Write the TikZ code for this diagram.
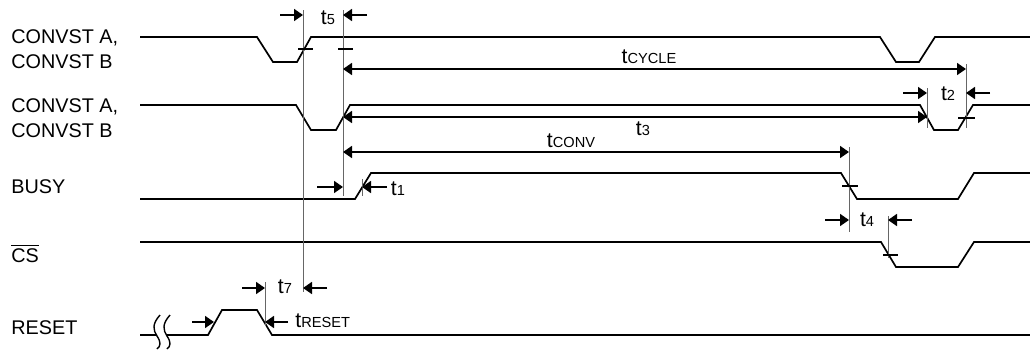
\documentclass[tikz,border=0pt]{standalone}
\usepackage{fontspec}
\setmainfont{Liberation Sans}
\usetikzlibrary{arrows.meta}
\tikzset{
  sig/.style={line width=0.85pt, line join=miter},
  guide/.style={line width=0.45pt, gray!80!black},
  tick/.style={line width=0.6pt},
  into/.style={line width=0.85pt, -{Triangle[length=4.5pt,width=6pt]}},
  span/.style={line width=0.85pt, {Triangle[length=4.5pt,width=6pt]}-{Triangle[length=4.5pt,width=6pt]}},
  signame/.style={anchor=base west, inner sep=0pt, font=\fontsize{9.9}{11}\selectfont},
  tlab/.style={anchor=base, inner sep=0pt, font=\fontsize{10.6}{12}\selectfont},
}
\newcommand{\tsub}[1]{t{\fontsize{7.3}{8}\selectfont #1}}

\begin{document}
\begin{tikzpicture}[x=0.5pt,y=-0.5pt]
  \useasboundingbox (0,0) rectangle (1030,349);

  % signal names
  \node[signame] (cva1) at (11,43)  {CONVST A,};
  \node[signame] (cvb1) at (11,68)  {CONVST B};
  \node[signame] (cva2) at (11,112) {CONVST A,};
  \node[signame] (cvb2) at (11,137) {CONVST B};
  \node[signame] (busy) at (11,193) {BUSY};
  \node[signame] (cs)   at (11,262) {$\overline{\mbox{CS}}$};
  \node[signame] (rst)  at (11,334) {RESET};

  % waveforms
  \draw[sig] (140,37) -- (257,37) -- (273,62) -- (297,62) -- (311,37) -- (880,37)
             -- (896,62) -- (919,62) -- (935,37) -- (1030,37);      %CONVST, first
  \draw[sig] (140,105) -- (296,105) -- (311,130) -- (336,130) -- (350,105) -- (920,105)
             -- (934,130) -- (958,130) -- (973,105) -- (1030,105);  %CONVST, second
  \draw[sig] (140,199) -- (355,199) -- (371,173) -- (841,173) -- (857,199)
             -- (958,199) -- (974,173) -- (1030,173);               %BUSY
  \draw[sig] (140,242) -- (881,242) -- (896,267) -- (958,267) -- (974,242)
             -- (1030,242);                                        %CS
  \draw[sig] (140,335) -- (157,335);                               %RESET
  \draw[sig] (167,335) -- (208,335) -- (222,310) -- (257,310) -- (272,335) -- (1030,335);
  \draw[line width=0.7pt] (160,315) .. controls (152,324) and (153,330) .. (157,336)
                          .. controls (161,342) and (161,346) .. (157,349);   %break
  \draw[line width=0.7pt] (170,315) .. controls (162,324) and (163,330) .. (167,336)
                          .. controls (171,342) and (171,346) .. (167,349);

  % reference lines
  \coordinate (g5top)  at (303,10);  \coordinate (g5bot)  at (303,292);
  \coordinate (g1top)  at (343,10);  \coordinate (g1bot)  at (343,196);
  \coordinate (g2top)  at (966,64);  \coordinate (g2bot)  at (966,128);
  \coordinate (g3top)  at (927,88);  \coordinate (g3bot)  at (927,128);
  \coordinate (gcvtop) at (849,147); \coordinate (gcvbot) at (849,232);
  \coordinate (g4top)  at (888,216); \coordinate (g4bot)  at (888,258);
  \coordinate (gbtop)  at (362,179); \coordinate (gbbot)  at (362,196);
  \coordinate (grtop)  at (265,282); \coordinate (grbot)  at (265,326);
  \foreach \a/\b in {g5top/g5bot,g1top/g1bot,g2top/g2bot,g3top/g3bot,
                     gcvtop/gcvbot,g4top/g4bot,gbtop/gbbot,grtop/grbot}
    \draw[guide] (\a) -- (\b);

  % level marks
  \draw[tick] (298,49) -- (313,49);
  \draw[tick] (338,49) -- (353,49);
  \draw[tick] (958,118) -- (975,118);
  \draw[tick] (842,186) -- (858,186);
  \draw[tick] (883,255) -- (898,255);

  % t5
  \coordinate (a5l) at (280,15); \coordinate (a5r) at (367,15);
  \draw[into] (a5l) -- (g5top |- a5l);
  \draw[into] (a5r) -- (g1top |- a5r);
  \node[tlab] (t5) at (328,24) {\tsub{5}};

  % tCYCLE, t3, tCONV
  \draw[span] (343,69) -- (966,69);
  \node[tlab] (tcyc) at (649,63) {\tsub{CYCLE}};
  \draw[span] (343,117) -- (927,117);
  \node[tlab] (t3) at (643,135) {\tsub{3}};
  \draw[span] (343,152) -- (849,152);
  \node[tlab] (tconv) at (571,147) {\tsub{CONV}};

  % t2
  \coordinate (a2l) at (903,93); \coordinate (a2r) at (990,93);
  \draw[into] (a2l) -- (g3top |- a2l);
  \draw[into] (a2r) -- (g2top |- a2r);
  \node[tlab] (t2) at (948,100) {\tsub{2}};

  % t1
  \coordinate (a1l) at (317,187); \coordinate (a1r) at (387,187);
  \draw[into] (a1l) -- (g1top |- a1l);
  \draw[into] (a1r) -- (gbtop |- a1r);
  \node[tlab] (t1) at (398,195) {\tsub{1}};

  % t4
  \coordinate (a4l) at (825,220); \coordinate (a4r) at (912,220);
  \draw[into] (a4l) -- (gcvtop |- a4l);
  \draw[into] (a4r) -- (g4top |- a4r);
  \node[tlab] (t4) at (867,226) {\tsub{4}};

  % t7
  \coordinate (a7l) at (242,288); \coordinate (a7r) at (327,288);
  \draw[into] (a7l) -- (grtop |- a7l);
  \draw[into] (a7r) -- (g5top |- a7r);
  \node[tlab] (t7) at (285,293) {\tsub{7}};

  % tRESET
  \coordinate (arl) at (192,322); \coordinate (arr) at (288,322);
  \draw[into] (arl) -- (214,322);
  \draw[into] (arr) -- (grtop |- arr);
  \node[tlab, anchor=base west] (treset) at (295,327) {\tsub{RESET}};
\end{tikzpicture}
\end{document}
